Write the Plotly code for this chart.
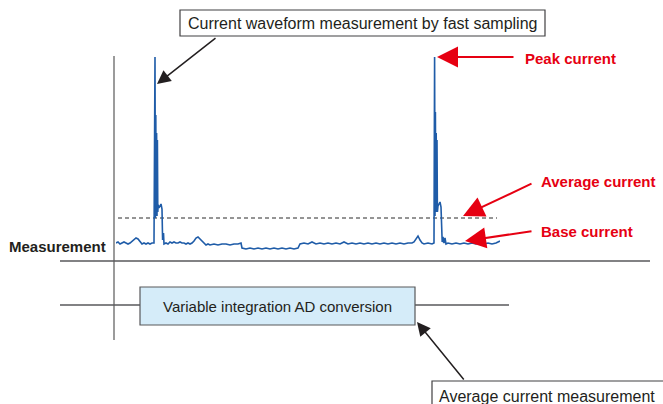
import plotly.graph_objects as go

# ── Colors ────────────────────────────────────────────────
BLUE      = "#1f5ca8"
RED       = "#e60012"
INK       = "#231f20"
GRAY      = "#6d6e71"
BOX_FILL  = "#d5ecf9"
FONT      = "Liberation Sans, Arial, sans-serif"

# ── Waveform data (sample index, current) ────────────────
sample_t = [
    0, 2, 4, 6, 8, 10, 12, 14, 16, 18, 20, 22, 24, 26, 28, 30, 32, 34, 36, 38,
    39, 39.4, 39.8, 40.2, 40.6, 41, 41.4, 41.8, 42.2, 43, 44, 45, 46, 46.6, 47.5, 48,
    50, 52, 54, 56, 58, 60, 62, 64, 66, 68, 70, 72, 74, 76,
    78, 80, 82, 84, 86, 88, 90, 92, 94,
    98, 102, 106, 110, 114, 118, 122, 125,
    126, 130, 134, 138, 142, 146, 150, 154, 158, 162, 166, 170, 174, 178, 182,
    184, 188, 192, 196, 200, 204, 208, 212, 216, 220, 224, 228, 232, 236, 240,
    244, 248, 252, 256, 260, 264, 268, 272, 276, 280, 284, 288, 292, 296,
    298, 300, 302, 304, 306, 308, 312, 316, 318,
    318.6, 319, 319.4, 319.8, 320.2, 320.6, 321, 321.4, 322, 323, 324, 325, 325.6, 326.2, 327, 328, 329, 330,
    332, 336, 340, 344, 348, 352, 356, 360, 364, 368, 372, 376, 380, 384,
]
current = [
    7, 8, 6, 7, 8, 7, 6, 7, 9, 11, 12, 11, 8, 6, 7, 6, 7, 6, 7, 7,
    193, 32, 135, 36, 117, 34, 110, 38, 45, 42, 45, 46, 41, 10, 17, 6,
    7, 6, 8, 7, 8, 7, 7, 8, 7, 7, 6, 7, 6, 7,
    9, 12, 13, 11, 8, 6, 5, 6, 5,
    6, 5, 6, 6, 5, 6, 6, 7,
    2, 1, 2, 1, 2, 1, 2, 1, 2, 1, 2, 1, 2, 1, 2,
    6, 7, 6, 8, 6, 7, 6, 7, 6, 7, 6, 8, 6, 7, 6,
    7, 6, 7, 6, 7, 6, 7, 6, 7, 6, 7, 6, 7, 7,
    8, 11, 14, 10, 7, 6, 7, 6, 7,
    193, 34, 138, 38, 117, 40, 110, 38, 44, 46, 48, 43, 24, 8, 13, 7, 12, 6,
    7, 6, 7, 6, 7, 6, 7, 6, 7, 6, 7, 6, 7, 9,
]
avg_t = [2, 381]
avg_current = [32, 32]

W, H = 663, 404

fig = go.Figure()

fig.add_trace(go.Scatter(
    x=avg_t, y=avg_current, xaxis="x2", yaxis="y2",
    mode="lines", line=dict(color="#2b2b2b", width=1, dash="4px,3px"),
    hoverinfo="skip",
))
fig.add_trace(go.Scatter(
    x=sample_t, y=current, xaxis="x2", yaxis="y2",
    mode="lines", line=dict(color=BLUE, width=1.6),
    hoverinfo="skip",
))

# ── Diagram frame (pixel-like coordinates) ───────────────
def line(x0, y0, x1, y1, color=GRAY, width=1.5):
    return dict(type="line", x0=x0, y0=y0, x1=x1, y1=y1, xref="x", yref="y",
                line=dict(color=color, width=width), layer="below")

shapes = [
    line(114, 56, 114, 340, color="#7a7a7a"),
    line(60, 261, 650, 261, color="#58595b"),
    line(60, 305, 140, 305, color="#58595b"),
    line(415, 305, 509, 305, color="#58595b"),
    dict(type="rect", x0=140, y0=287, x1=415, y1=325, xref="x", yref="y",
         fillcolor=BOX_FILL, line=dict(color="#58595b", width=1.2)),
    dict(type="rect", x0=180, y0=10, x1=545, y1=36, xref="x", yref="y",
         fillcolor="white", line=dict(color="#414042", width=1.2)),
    dict(type="rect", x0=432, y0=381, x1=668, y1=412, xref="x", yref="y",
         fillcolor="white", line=dict(color="#414042", width=1.2)),
]

def label(text, x, y, color=INK, size=15, bold=False, anchor="left"):
    return dict(text=f"<b>{text}</b>" if bold else text, x=x, y=y,
                xref="x", yref="y", xanchor=anchor, yanchor="middle",
                showarrow=False, font=dict(family=FONT, size=size, color=color))

def arrow(x0, y0, x1, y1, color, width, size):
    return dict(text="", x=x1, y=y1, ax=x0, ay=y0, xref="x", yref="y",
                axref="x", ayref="y", showarrow=True, arrowhead=2,
                arrowsize=size, arrowwidth=width, arrowcolor=color)

annotations = [
    label("Current waveform measurement by fast sampling", 362.5, 23, size=16, anchor="center"),
    label("Peak current", 523, 58, color=RED, bold=True),
    label("Average current", 539, 181, color=RED, bold=True),
    label("Base current", 539, 231, color=RED, bold=True),
    label("Measurement", 108, 246, bold=True, anchor="right"),
    label("Variable integration AD conversion", 277.5, 306, size=15, anchor="center"),
    label("Average current measurement", 437, 396, size=16),
    arrow(217, 37, 157, 84, "#231f20", 1.5, 1.8),
    arrow(515, 57, 437, 57, RED, 2, 2.1),
    arrow(533, 183, 463, 216, RED, 2, 2.1),
    arrow(533, 231, 465, 241, RED, 2, 2.1),
    arrow(465, 381, 417, 322, "#231f20", 1.5, 1.8),
]

fig.update_layout(
    width=W, height=H,
    margin=dict(l=0, r=0, t=0, b=0),
    paper_bgcolor="white", plot_bgcolor="rgba(0,0,0,0)",
    showlegend=False,
    xaxis=dict(range=[0, W], visible=False, fixedrange=True),
    yaxis=dict(range=[H, 0], visible=False, fixedrange=True),
    xaxis2=dict(domain=[116 / W, 500 / W], range=[0, 384], visible=False, anchor="y2"),
    yaxis2=dict(domain=[(H - 250) / H, (H - 57) / H], range=[0, 193], visible=False, anchor="x2"),
    shapes=shapes,
    annotations=annotations,
)

# page has a default 8px body margin; drop it so the figure fills the window
fig.write_html(
    "out.html",
    config=dict(displayModeBar=False),
    post_script="document.body.style.margin='0';document.body.style.overflow='hidden';",
)
